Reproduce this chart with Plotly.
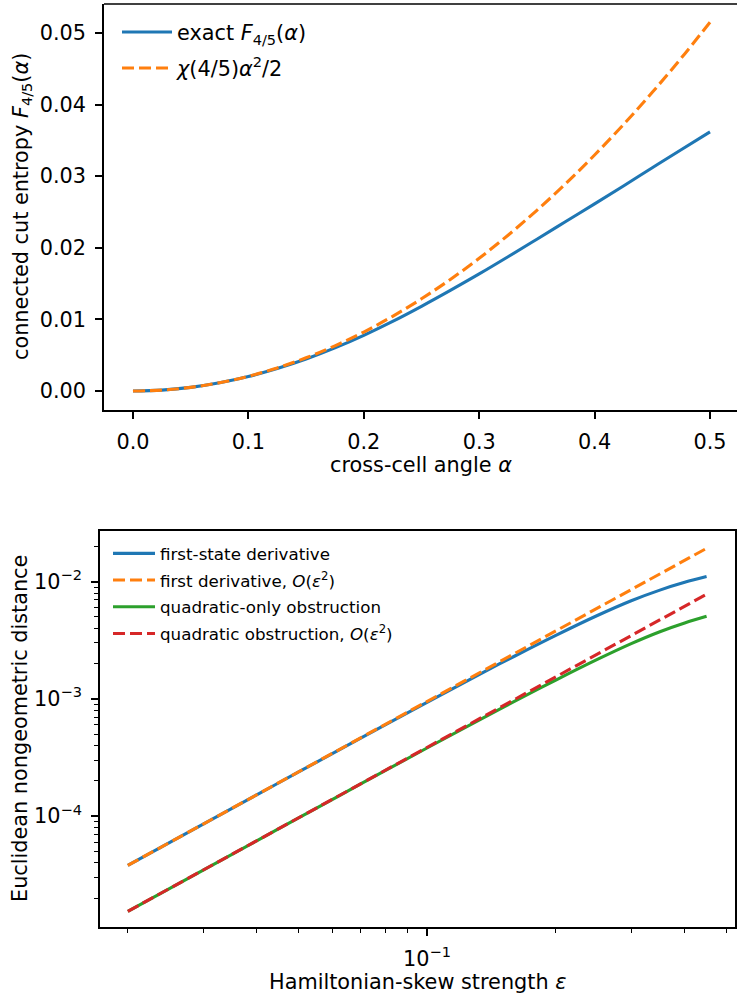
import plotly.graph_objects as go

# ---------------- data: top panel ----------------
alpha = [0.0, 0.025, 0.05, 0.075, 0.1, 0.125, 0.15, 0.175, 0.2, 0.225, 0.25,
         0.275, 0.3, 0.325, 0.35, 0.375, 0.4, 0.425, 0.45, 0.475, 0.5]
exact_F = [0.0, 0.000129, 0.000513, 0.00115, 0.00203, 0.00314, 0.00447, 0.00602,
           0.00778, 0.00972, 0.01183, 0.01405, 0.01635, 0.01875, 0.02120, 0.02367,
           0.02614, 0.02864, 0.03118, 0.03370, 0.03620]
quad_F = [0.0, 0.000129, 0.000515, 0.00116, 0.00206, 0.00322, 0.00464, 0.00631,
          0.00824, 0.01043, 0.01288, 0.01558, 0.01854, 0.02176, 0.02524, 0.02897,
          0.03296, 0.03721, 0.04172, 0.04648, 0.0515]

# ---------------- data: bottom panel ----------------
eps = [0.02, 0.03, 0.04, 0.05, 0.07, 0.1, 0.13, 0.16, 0.2, 0.25, 0.3, 0.35, 0.4, 0.45]
first_state = [3.80e-5, 8.54e-5, 1.517e-4, 2.367e-4, 4.62e-4, 9.35e-4, 1.558e-3,
               2.31e-3, 3.48e-3, 5.14e-3, 6.87e-3, 8.47e-3, 9.86e-3, 1.104e-2]
first_O2 = [3.80e-5, 8.55e-5, 1.52e-4, 2.375e-4, 4.66e-4, 9.5e-4, 1.606e-3,
            2.43e-3, 3.80e-3, 5.94e-3, 8.55e-3, 1.164e-2, 1.52e-2, 1.924e-2]
quad_only = [1.54e-5, 3.46e-5, 6.15e-5, 9.6e-5, 1.88e-4, 3.81e-4, 6.37e-4,
             9.52e-4, 1.448e-3, 2.17e-3, 2.96e-3, 3.74e-3, 4.44e-3, 5.06e-3]
quad_O2 = [1.54e-5, 3.465e-5, 6.16e-5, 9.63e-5, 1.887e-4, 3.85e-4, 6.51e-4,
           9.86e-4, 1.54e-3, 2.406e-3, 3.465e-3, 4.716e-3, 6.16e-3, 7.80e-3]

top_xticks = [0.0, 0.1, 0.2, 0.3, 0.4, 0.5]
top_xlabels = ["0.0", "0.1", "0.2", "0.3", "0.4", "0.5"]
top_yticks = [0.0, 0.01, 0.02, 0.03, 0.04, 0.05]
top_ylabels = ["0.00", "0.01", "0.02", "0.03", "0.04", "0.05"]
bot_yticks = [1e-4, 1e-3, 1e-2]
bot_ylabels = ["10<sup>\u22124</sup>", "10<sup>\u22123</sup>", "10<sup>\u22122</sup>"]
bot_xticks = [0.1]
bot_xlabels = ["10<sup>\u22121</sup>"]
bot_xminor = [0.02, 0.03, 0.04, 0.05, 0.06, 0.07, 0.08, 0.09, 0.2, 0.3, 0.4, 0.5]
bot_yminor = [2e-5, 3e-5, 4e-5, 5e-5, 6e-5, 7e-5, 8e-5, 9e-5,
              2e-4, 3e-4, 4e-4, 5e-4, 6e-4, 7e-4, 8e-4, 9e-4,
              2e-3, 3e-3, 4e-3, 5e-3, 6e-3, 7e-3, 8e-3, 9e-3, 2e-2]

BLUE, ORANGE, GREEN, RED = "#1f77b4", "#ff7f0e", "#2ca02c", "#d62728"
FONT = "DejaVu Sans"
FS = 20.8
LW = 3.1
DASH = "12px,5px"

W, H = 737, 996

def px_x(p):
    return p / W

def px_y(p):
    return 1 - p / H

fig = go.Figure()

fig.add_trace(go.Scatter(x=alpha, y=exact_F, mode="lines", line=dict(color=BLUE, width=LW, shape="spline"),
                         name="exact <i>F</i><sub>4/5</sub>(<i>\u03b1</i>)", legendgroup="a",
                         xaxis="x", yaxis="y", legend="legend"))
fig.add_trace(go.Scatter(x=alpha, y=quad_F, mode="lines", line=dict(color=ORANGE, width=LW, dash=DASH, shape="spline"),
                         name="<i>\u03c7</i>(4/5)<i>\u03b1</i><sup>2</sup>/2", legendgroup="b",
                         xaxis="x", yaxis="y", legend="legend"))

fig.add_trace(go.Scatter(x=eps, y=first_state, mode="lines", line=dict(color=BLUE, width=LW, shape="spline"),
                         name="first-state derivative", legendgroup="c",
                         xaxis="x2", yaxis="y2", legend="legend2"))
fig.add_trace(go.Scatter(x=eps, y=first_O2, mode="lines", line=dict(color=ORANGE, width=LW, dash=DASH),
                         name="first derivative, <i>O</i>(<i>\u03b5</i><sup>2</sup>)", legendgroup="d",
                         xaxis="x2", yaxis="y2", legend="legend2"))
fig.add_trace(go.Scatter(x=eps, y=quad_only, mode="lines", line=dict(color=GREEN, width=LW, shape="spline"),
                         name="quadratic-only obstruction", legendgroup="e",
                         xaxis="x2", yaxis="y2", legend="legend2"))
fig.add_trace(go.Scatter(x=eps, y=quad_O2, mode="lines", line=dict(color=RED, width=LW, dash=DASH),
                         name="quadratic obstruction, <i>O</i>(<i>\u03b5</i><sup>2</sup>)", legendgroup="f",
                         xaxis="x2", yaxis="y2", legend="legend2"))

axis_common = dict(showline=True, linecolor="black", linewidth=1.6, ticks="outside", ticklen=7,
                   tickwidth=1.6, tickcolor="black", showgrid=False, zeroline=False,
                   tickfont=dict(family=FONT, size=FS, color="black"))

fig.update_layout(
    xaxis=dict(domain=[px_x(104), 1.0], anchor="y", range=[-0.0251, 0.5234],
               tickmode="array", tickvals=top_xticks, ticktext=top_xlabels, ticklabelstandoff=5,
               **axis_common),
    yaxis=dict(domain=[px_y(410), px_y(4)], anchor="x", range=[-0.00265, 0.05405],
               tickmode="array", tickvals=top_yticks, ticktext=top_ylabels, ticklabelstandoff=5,
               **axis_common),
    xaxis2=dict(domain=[px_x(100), px_x(735)], anchor="y2", type="log", range=[-1.764, -0.2804],
                tickmode="array", tickvals=bot_xticks, ticktext=bot_xlabels, mirror=True, ticklabelstandoff=5,
                minor=dict(tickmode="array", tickvals=bot_xminor,
                           ticks="outside", ticklen=4, tickwidth=1.2, tickcolor="black", showgrid=False),
                **axis_common),
    yaxis2=dict(domain=[px_y(927), px_y(531)], anchor="x2", type="log", range=[-4.946, -1.568],
                tickmode="array", tickvals=bot_yticks, ticktext=bot_ylabels, mirror=True, ticklabelstandoff=5,
                minor=dict(tickmode="array", tickvals=bot_yminor,
                           ticks="outside", ticklen=4, tickwidth=1.2, tickcolor="black", showgrid=False),
                **axis_common),
)

fig.add_shape(type="line", xref="x domain", yref="y domain", x0=0, x1=1, y0=1, y1=1,
              line=dict(color="black", width=1.6))

fig.update_layout(
    width=W, height=H, margin=dict(l=0, r=0, t=0, b=0),
    paper_bgcolor="white", plot_bgcolor="white",
    font=dict(family=FONT, size=FS, color="black"),
    showlegend=True,
    legend=dict(x=px_x(117), y=px_y(12), xanchor="left", yanchor="top",
                bgcolor="rgba(255,255,255,0)", borderwidth=0, itemwidth=50, tracegroupgap=6,
                font=dict(family=FONT, size=FS, color="black")),
    legend2=dict(x=px_x(108), y=px_y(536), xanchor="left", yanchor="top",
                 bgcolor="rgba(255,255,255,0)", borderwidth=0, itemwidth=42, tracegroupgap=2,
                 font=dict(family=FONT, size=16.7, color="black")),
)

annotations = [
    dict(text="cross-cell angle <i>\u03b1</i>", x=px_x(421), y=px_y(465), xref="paper", yref="paper",
         showarrow=False, xanchor="center", yanchor="middle", font=dict(family=FONT, size=FS, color="black")),
    dict(text="connected cut entropy <i>F</i><sub>4/5</sub>(<i>\u03b1</i>)", x=px_x(22), y=px_y(207),
         xref="paper", yref="paper", showarrow=False, textangle=-90, xanchor="center", yanchor="middle",
         font=dict(family=FONT, size=FS, color="black")),
    dict(text="Hamiltonian-skew strength <i>\u03b5</i>", x=px_x(417), y=px_y(982), xref="paper", yref="paper",
         showarrow=False, xanchor="center", yanchor="middle", font=dict(family=FONT, size=FS, color="black")),
    dict(text="Euclidean nongeometric distance", x=px_x(20), y=px_y(729), xref="paper", yref="paper",
         showarrow=False, textangle=-90, xanchor="center", yanchor="middle",
         font=dict(family=FONT, size=FS, color="black")),
]
fig.update_layout(annotations=annotations)

fig.write_html("out.html", config={"displayModeBar": False},
               post_script="document.body.style.margin='0';document.body.style.overflow='hidden';")
